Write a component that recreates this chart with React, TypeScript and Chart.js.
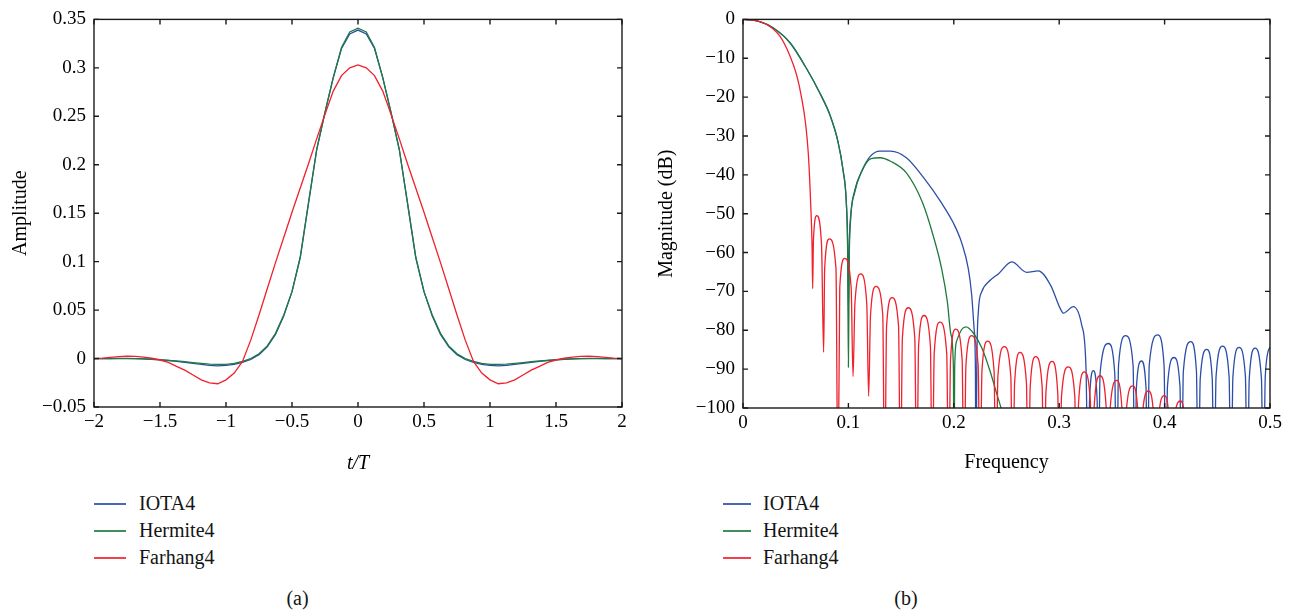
import React, { useEffect, useRef } from 'react';
import { Chart, registerables } from 'chart.js';

Chart.register(...registerables);

const FONT = "'Liberation Serif', 'Times New Roman', Times, serif";

const seriesNames = ['IOTA4', 'Hermite4', 'Farhang4'];
const IOTA_COLOR = '#2c4ea8';
const HERMITE_COLOR = '#1f7a3e';
const FARHANG_COLOR = '#f0202c';
const seriesColors = [IOTA_COLOR, HERMITE_COLOR, FARHANG_COLOR];

// ---------- Panel (a): time domain ----------
const timeValues = [
  -2, -1.9375, -1.875, -1.8125, -1.75, -1.6875, -1.625, -1.5625, -1.5, -1.4375, -1.375, -1.3125, -1.25,
  -1.1875, -1.125, -1.0625, -1, -0.9375, -0.875, -0.8125, -0.75, -0.6875, -0.625, -0.5625, -0.5, -0.4375,
  -0.375, -0.3125, -0.25, -0.1875, -0.125, -0.0625, 0, 0.0625, 0.125, 0.1875, 0.25, 0.3125, 0.375, 0.4375,
  0.5, 0.5625, 0.625, 0.6875, 0.75, 0.8125, 0.875, 0.9375, 1, 1.0625, 1.125, 1.1875, 1.25, 1.3125, 1.375,
  1.4375, 1.5, 1.5625, 1.625, 1.6875, 1.75, 1.8125, 1.875, 1.9375, 2,
];

const iotaPulse = [
  0, 0, 0, 0, 0, 0, -0.0003, -0.0007, -0.0013, -0.002, -0.003, -0.004, -0.005,
  -0.006, -0.007, -0.0075, -0.007, -0.006, -0.004, -0.001, 0.004, 0.012, 0.025, 0.044, 0.069, 0.105,
  0.161, 0.216, 0.254, 0.29, 0.32, 0.335, 0.339, 0.335, 0.32, 0.29, 0.254, 0.216, 0.161, 0.105,
  0.069, 0.044, 0.025, 0.012, 0.004, -0.001, -0.004, -0.006, -0.007, -0.0075, -0.007, -0.006, -0.005, -0.004, -0.003,
  -0.002, -0.0013, -0.0007, -0.0003, 0, 0, 0, 0, 0, 0,
];

const hermitePulse = [
  0, 0, 0, 0.0001, 0.0001, 0, -0.0003, -0.0007, -0.0012, -0.0018, -0.0025, -0.0033, -0.0042,
  -0.005, -0.0058, -0.006, -0.006, -0.005, -0.003, 0, 0.005, 0.013, 0.026, 0.045, 0.069, 0.104,
  0.16, 0.216, 0.254, 0.29, 0.321, 0.337, 0.341, 0.337, 0.321, 0.29, 0.254, 0.216, 0.16, 0.104,
  0.069, 0.045, 0.026, 0.013, 0.005, 0, -0.003, -0.005, -0.006, -0.006, -0.0058, -0.005, -0.0042, -0.0033, -0.0025,
  -0.0018, -0.0012, -0.0007, -0.0003, 0, 0.0001, 0.0001, 0, 0, 0,
];

const farhangPulse = [
  0, 0.0005, 0.0012, 0.002, 0.0024, 0.0022, 0.0015, 0.0003, -0.0015, -0.004, -0.008, -0.012, -0.017,
  -0.022, -0.025, -0.026, -0.022, -0.015, -0.003, 0.019, 0.045, 0.072, 0.099, 0.125, 0.151, 0.176,
  0.201, 0.227, 0.252, 0.276, 0.292, 0.3, 0.303, 0.3, 0.292, 0.276, 0.252, 0.227, 0.201, 0.176,
  0.151, 0.125, 0.099, 0.072, 0.045, 0.019, -0.003, -0.015, -0.022, -0.026, -0.025, -0.022, -0.017, -0.012, -0.008,
  -0.004, -0.0015, 0.0003, 0.0015, 0.0022, 0.0024, 0.002, 0.0012, 0.0005, 0,
];

const pulses = [iotaPulse, hermitePulse, farhangPulse];

// ---------- Panel (b): magnitude responses [frequency, dB] ----------
const iotaSpectrum: [number, number][] = [
  [0, 0], [0.015, -0.5], [0.0288, -2.2], [0.0446, -6], [0.0604, -12.7], [0.073, -19], [0.0825, -24.6],
  [0.09, -31.3], [0.095, -38.9], [0.098, -47], [0.0993, -58], [0.1, -75], [0.1008, -58], [0.102, -51],
  [0.106, -44], [0.112, -39.4], [0.1205, -35.3], [0.13, -33.9], [0.14, -33.9], [0.155, -35.6], [0.171, -40.6],
  [0.1885, -47.3], [0.1996, -52.4], [0.2075, -57.5], [0.2138, -64.2], [0.217, -71], [0.2192, -79.4],
  [0.2205, -90], [0.221, -125], [0.2218, -90], [0.2233, -75.2], [0.2265, -70.1], [0.2343, -67.2],
  [0.2422, -65.5], [0.255, -62.4], [0.2692, -65.1], [0.2802, -64.7], [0.292, -68.5], [0.3008, -74.3],
  [0.304, -75.6], [0.3134, -73.9], [0.3213, -78.6], [0.3254, -89.5], [0.3277, -125],
  [0.3288, -98], [0.3324, -90.4], [0.336, -98], [0.337, -125],
  [0.3388, -91], [0.3467, -83.4], [0.3527, -91], [0.3545, -125],
  [0.3563, -89], [0.363, -81.4], [0.3701, -89], [0.3719, -125],
  [0.3732, -95], [0.378, -87.9], [0.3824, -95], [0.3836, -125],
  [0.3854, -89], [0.3935, -81.2], [0.3995, -89], [0.4013, -125],
  [0.4027, -94.5], [0.4089, -87], [0.4146, -94.5], [0.416, -125],
  [0.4178, -90.5], [0.4248, -82.9], [0.4302, -90.5], [0.432, -125],
  [0.4338, -92.5], [0.44, -84.9], [0.4452, -92.5], [0.447, -125],
  [0.4488, -92], [0.455, -84.1], [0.4612, -92], [0.463, -125],
  [0.4648, -92], [0.4706, -84.4], [0.4767, -92], [0.4785, -125],
  [0.4803, -92.5], [0.4858, -84.6], [0.4919, -92.5], [0.4937, -125],
  [0.4955, -92], [0.5, -84.2],
];

const hermiteSpectrum: [number, number][] = [
  [0, 0], [0.015, -0.5], [0.0288, -2.2], [0.0446, -6], [0.0604, -12.7], [0.073, -19], [0.0825, -24.6],
  [0.09, -31.3], [0.095, -38.9], [0.098, -47], [0.0993, -60], [0.1, -89.5], [0.1008, -62], [0.102, -52],
  [0.106, -44.5], [0.112, -39.5], [0.1214, -35.8], [0.13, -35.6], [0.14, -36.5], [0.155, -39.5],
  [0.1701, -47], [0.1806, -55.8], [0.1885, -64.2], [0.1939, -72.7], [0.1973, -81.1], [0.1996, -89.5],
  [0.2002, -125], [0.2008, -90], [0.2027, -82.8], [0.2075, -79.8], [0.2116, -79.1], [0.2185, -80.7],
  [0.2265, -84.5], [0.2343, -90.4], [0.2407, -96.3], [0.2448, -100], [0.25, -106],
];

const farhangSpectrum: [number, number][] = [
  [0, 0], [0.01, -0.2], [0.0225, -1.3], [0.035, -4.3], [0.0446, -9.4], [0.051, -14.4], [0.0557, -20.3],
  [0.0595, -27.1], [0.062, -34.7], [0.0642, -47.3], [0.0655, -58], [0.0661, -69.3],
  [0.0668, -57], [0.07, -50.5], [0.0745, -58], [0.0765, -85.7],
  [0.0775, -64], [0.0819, -56.5], [0.0882, -64], [0.0901, -125],
  [0.0918, -69], [0.0965, -61.5], [0.1026, -69], [0.1044, -91.9],
  [0.1062, -73], [0.1117, -65.5], [0.1174, -73], [0.1192, -97],
  [0.121, -76], [0.1262, -68.7], [0.1326, -76], [0.1344, -125],
  [0.1362, -79], [0.1414, -71.6], [0.1476, -79], [0.1494, -125],
  [0.1512, -82], [0.1568, -74.2], [0.163, -82], [0.1648, -125],
  [0.1666, -84], [0.1717, -76.2], [0.1778, -84], [0.1796, -125],
  [0.1814, -86], [0.1869, -77.9], [0.1933, -86], [0.1951, -125],
  [0.1969, -87.5], [0.2018, -79.7], [0.2079, -87.5], [0.2097, -125],
  [0.2115, -89], [0.217, -81.4], [0.2231, -89], [0.2249, -125],
  [0.2267, -90.5], [0.2321, -82.8], [0.2382, -90.5], [0.24, -125],
  [0.2418, -92], [0.2479, -84.2], [0.2541, -92], [0.2559, -125],
  [0.2577, -93.5], [0.2628, -85.7], [0.2689, -93.5], [0.2707, -125],
  [0.2725, -94.5], [0.2777, -86.8], [0.2838, -94.5], [0.2856, -125],
  [0.2874, -96], [0.2932, -88], [0.2986, -96], [0.3004, -125],
  [0.3022, -97], [0.3086, -89.4], [0.3148, -97], [0.3166, -125],
  [0.3184, -98.5], [0.3238, -90.7], [0.3296, -98.5], [0.3314, -125],
  [0.3332, -99.5], [0.3387, -91.7], [0.3445, -99.5], [0.3463, -125],
  [0.3481, -101], [0.3545, -92.9], [0.3597, -101], [0.3615, -125],
  [0.3633, -102], [0.3697, -94.3], [0.3749, -102], [0.3767, -125],
  [0.3785, -103.5], [0.3846, -95.6], [0.39, -103.5], [0.3918, -125],
  [0.3936, -105], [0.3997, -96.8], [0.4047, -105], [0.4065, -125],
  [0.4083, -106], [0.415, -98.2], [0.4197, -106], [0.4215, -125],
];

const spectra = [iotaSpectrum, hermiteSpectrum, farhangSpectrum];

// ---------- helpers ----------
const fmt = (v: number) => {
  const n = Math.round(Number(v) * 1000) / 1000;
  if (Math.abs(n) < 1e-9) return '0';
  return n < 0 ? '\u2212' + String(-n) : String(n);
};

const framePlugin = {
  id: 'frameTicks',
  afterDatasetsDraw(chart: any) {
    const { ctx, chartArea: a, scales } = chart;
    const L = 5;
    ctx.save();
    ctx.strokeStyle = '#1a1a1a';
    ctx.lineWidth = 1.4;
    ctx.beginPath();
    scales.x.ticks.forEach((t: any) => {
      const px = scales.x.getPixelForValue(t.value);
      ctx.moveTo(px, a.bottom);
      ctx.lineTo(px, a.bottom - L);
      ctx.moveTo(px, a.top);
      ctx.lineTo(px, a.top + L);
    });
    scales.y.ticks.forEach((t: any) => {
      const py = scales.y.getPixelForValue(t.value);
      ctx.moveTo(a.left, py);
      ctx.lineTo(a.left + L, py);
      ctx.moveTo(a.right, py);
      ctx.lineTo(a.right - L, py);
    });
    ctx.stroke();
    ctx.strokeRect(a.left, a.top, a.right - a.left, a.bottom - a.top);
    ctx.restore();
  },
};

const tickFont = { family: FONT, size: 19 };
const titleFont = { family: FONT, size: 20 };

function axis(opts: any) {
  return {
    type: 'linear',
    min: opts.min,
    max: opts.max,
    afterFit: opts.afterFit,
    grid: { display: false, drawTicks: false },
    border: { display: false },
    ticks: {
      stepSize: opts.step,
      autoSkip: false,
      maxRotation: 0,
      padding: opts.pad,
      color: '#000',
      font: tickFont,
      callback: (v: any) => fmt(v),
    },
    title: {
      display: true,
      text: opts.title,
      color: '#000',
      font: { ...titleFont, style: opts.italic ? 'italic' : 'normal' },
      padding: opts.titlePad,
    },
  };
}

function baseOptions(scales: any) {
  return {
    responsive: false,
    devicePixelRatio: 1,
    animation: false,
    events: [],
    layout: { padding: scales.padding },
    plugins: { legend: { display: false }, tooltip: { enabled: false } },
    scales: { x: scales.x, y: scales.y },
  };
}

function LegendRow({ left, top, lineW, textGap, name, color }: any) {
  return (
    <>
      <div
        style={{
          position: 'absolute',
          left,
          top: top - 1,
          width: lineW,
          height: 2,
          background: color,
          opacity: 0.85,
        }}
      />
      <div
        style={{
          position: 'absolute',
          left: left + textGap,
          top: top - 11.5,
          fontSize: 20,
          lineHeight: '20px',
          whiteSpace: 'nowrap',
          color: '#141414',
        }}
      >
        {name}
      </div>
    </>
  );
}

function Legend({ left, top, lineW, textGap }: { left: number; top: number; lineW: number; textGap: number }) {
  return (
    <>
      <LegendRow left={left} top={top} lineW={lineW} textGap={textGap} name={seriesNames[0]} color={IOTA_COLOR} />
      <LegendRow left={left} top={top + 27} lineW={lineW} textGap={textGap} name={seriesNames[1]} color={HERMITE_COLOR} />
      <LegendRow left={left} top={top + 54} lineW={lineW} textGap={textGap} name={seriesNames[2]} color={FARHANG_COLOR} />
    </>
  );
}

export default function App() {
  const leftRef = useRef<HTMLCanvasElement>(null);
  const rightRef = useRef<HTMLCanvasElement>(null);

  useEffect(() => {
    const left = new Chart(leftRef.current as HTMLCanvasElement, {
      type: 'line',
      data: {
        datasets: seriesNames.map((name, i) => ({
          label: name,
          data: timeValues.map((t, k) => ({ x: t, y: pulses[i][k] })),
          borderColor: seriesColors[i],
          backgroundColor: seriesColors[i],
          borderWidth: 1.3,
          pointRadius: 0,
          tension: 0,
          fill: false,
          order: 3 - i,
        })),
      },
      options: baseOptions({
        padding: { left: 0, top: 13, right: 18, bottom: 0 },
        x: axis({
          min: -2, max: 2, step: 0.5, pad: 4, title: 't/T', italic: true,
          titlePad: { top: 0, bottom: 4 },
          afterFit: (s: any) => { s.height = 73; },
        }),
        y: axis({
          min: -0.05, max: 0.35, step: 0.05, pad: 8, title: 'Amplitude',
          titlePad: { top: 9, bottom: 0 },
          afterFit: (s: any) => { s.width = 94; },
        }),
      }) as any,
      plugins: [framePlugin],
    });

    const right = new Chart(rightRef.current as HTMLCanvasElement, {
      type: 'scatter',
      data: {
        datasets: seriesNames.map((name, i) => ({
          label: name,
          data: spectra[i].map(([f, db]) => ({ x: f, y: db })),
          showLine: true,
          borderColor: seriesColors[i],
          backgroundColor: seriesColors[i],
          borderWidth: 1.3,
          pointRadius: 0,
          cubicInterpolationMode: 'monotone',
          fill: false,
          order: 3 - i,
        })),
      },
      options: baseOptions({
        padding: { left: 0, top: 13, right: 23, bottom: 0 },
        x: axis({
          min: 0, max: 0.5, step: 0.1, pad: 4, title: 'Frequency',
          titlePad: { top: 0, bottom: 5 },
          afterFit: (s: any) => { s.height = 72; },
        }),
        y: axis({
          min: -100, max: 0, step: 10, pad: 8, title: 'Magnitude (dB)',
          titlePad: { top: 15, bottom: 0 },
          afterFit: (s: any) => { s.width = 103; },
        }),
      }) as any,
      plugins: [framePlugin],
    });

    return () => {
      left.destroy();
      right.destroy();
    };
  }, []);

  return (
    <div
      style={{
        position: 'absolute',
        left: 0,
        top: 0,
        width: 1293,
        height: 616,
        background: '#fff',
        fontFamily: FONT,
        overflow: 'hidden',
      }}
    >
      <canvas
        ref={leftRef}
        width={640}
        height={480}
        style={{ position: 'absolute', left: 0, top: 0, width: 640, height: 480 }}
      />
      <canvas
        ref={rightRef}
        width={653}
        height={480}
        style={{ position: 'absolute', left: 640, top: 0, width: 653, height: 480 }}
      />
      <Legend left={94} top={504} lineW={32} textGap={45} />
      <Legend left={723} top={504} lineW={28} textGap={40} />
      <div style={{ position: 'absolute', left: 247.5, width: 100, top: 588, textAlign: 'center', fontSize: 20, lineHeight: '20px', color: '#141414' }}>
        (a)
      </div>
      <div style={{ position: 'absolute', left: 856, width: 100, top: 588, textAlign: 'center', fontSize: 20, lineHeight: '20px', color: '#141414' }}>
        (b)
      </div>
    </div>
  );
}
